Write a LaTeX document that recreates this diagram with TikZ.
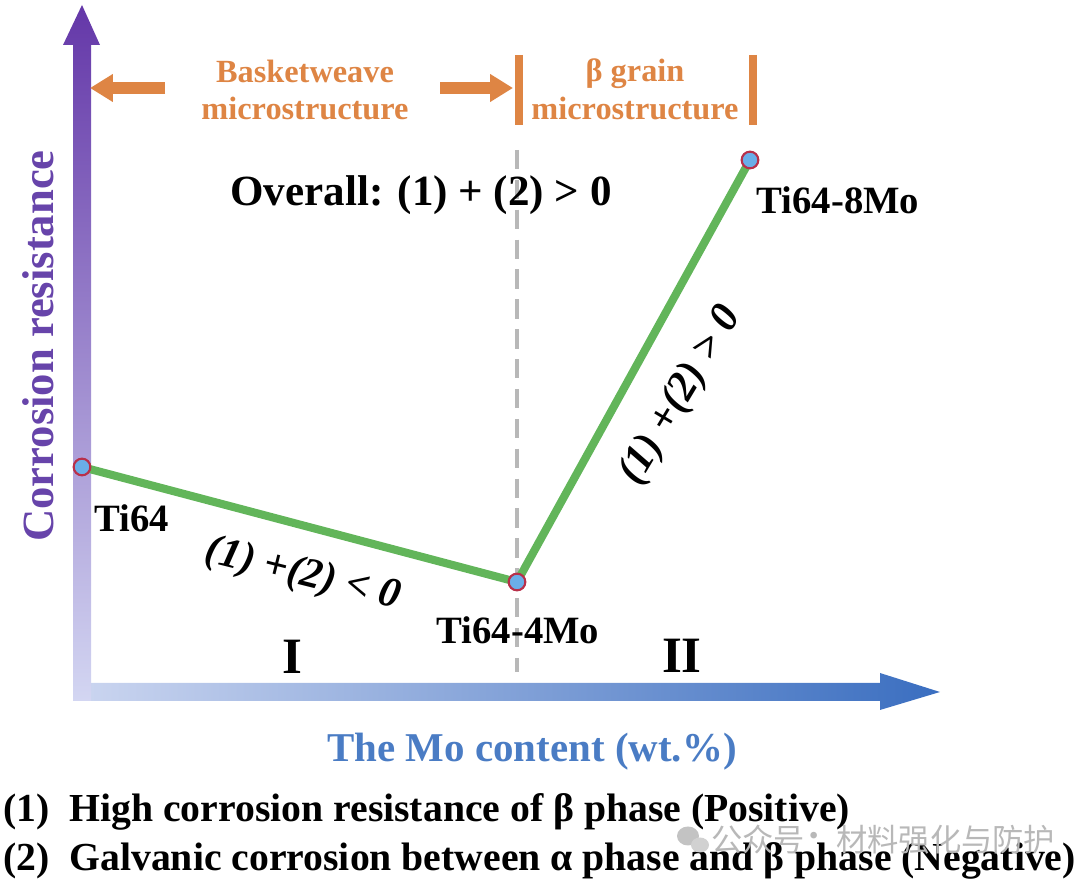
\documentclass[tikz,border=0pt]{standalone}
\usepackage{fontspec}
\setmainfont{Liberation Serif}
\newfontfamily\cjkfont{Noto Sans CJK SC}
\usetikzlibrary{arrows.meta}

\definecolor{axpurple}{HTML}{6437A8}
\definecolor{axlav}{HTML}{D3D6F2}
\definecolor{axlight}{HTML}{CCD6F0}
\definecolor{axblue}{HTML}{3A6EC0}
\definecolor{regorange}{HTML}{DE8544}
\definecolor{trendgreen}{HTML}{62B55A}
\definecolor{dotblue}{HTML}{6AAEE8}
\definecolor{dotred}{HTML}{B8304A}
\definecolor{ylabcol}{HTML}{6744AA}
\definecolor{xlabcol}{HTML}{4A7CC4}
\definecolor{markgray}{HTML}{B8B8B8}

\tikzset{
  lbl/.style={font=\bfseries\fontsize{22}{26}\selectfont, inner sep=0pt},
  regtxt/.style={font=\bfseries\fontsize{18.4}{21.6}\selectfont, text=regorange, align=center, inner sep=0pt},
  sumtxt/.style={font=\bfseries\itshape\fontsize{24}{28}\selectfont, inner sep=0pt},
  roman/.style={font=\bfseries\fontsize{29}{34}\selectfont, inner sep=0pt},
  legend/.style={font=\bfseries\fontsize{22.6}{27}\selectfont, anchor=west, inner sep=0pt},
  marktxt/.style={font=\cjkfont\fontsize{17.8}{21}\selectfont, text=markgray, inner sep=0pt},
  regarrow/.style={regorange, line width=6.8pt, -{Triangle[length=13pt, width=15pt]}},
  regbar/.style={regorange, line width=4.5pt},
  trend/.style={trendgreen, line width=4.6pt, line join=round},
  dot/.style={circle, fill=dotblue, draw=dotred, line width=1.2pt, minimum size=9.5pt, inner sep=0pt},
}

\begin{document}
\begin{tikzpicture}[x=0.02cm, y=-0.02cm]
  \useasboundingbox (0,0) rectangle (1080,888);

  % axes
  \shade[left color=axlight, right color=axblue]
    (73,683) -- (880,683) -- (880,673) -- (940,692) -- (880,710) -- (880,701) -- (73,701) -- cycle;
  \shade[top color=axpurple, bottom color=axlav]
    (73,701) -- (73,45) -- (63,45) -- (82,5) -- (100,45) -- (91,45) -- (91,701) -- cycle;
  \node[font=\bfseries\fontsize{25.4}{30}\selectfont, text=ylabcol, rotate=90, inner sep=0pt] (ylab) at (38,346) {Corrosion resistance};
  \node[font=\bfseries\fontsize{23.3}{28}\selectfont, text=xlabcol, inner sep=0pt] (xlab) at (532,752) {The Mo content (wt.\%)};

  % regions
  \coordinate (bw-tail) at (165,88);
  \coordinate (bw-tip) at (90,88);
  \coordinate (bg-tail) at (440,88);
  \coordinate (bg-tip) at (513,88);
  \draw[regarrow] (bw-tail) -- (bw-tip);
  \draw[regarrow] (bg-tail) -- (bg-tip);
  \draw[regbar] (519,55) -- (519,125);
  \draw[regbar] (753,55) -- (753,125);
  \node[regtxt] (basket) at (305,90) {Basketweave\\microstructure};
  \node[regtxt] (grain) at (635,89) {β grain\\microstructure};
  \draw[markgray, line width=2.3pt, dash pattern=on 11pt off 6pt] (517,150) -- (517,672);
  \node[font=\bfseries\fontsize{24.5}{29}\selectfont, inner sep=0pt] (overall) at (421,195) {Overall: (1) + (2) > 0};

  % trend
  \coordinate (p0) at (82,467);
  \coordinate (p1) at (517,582);
  \coordinate (p2) at (750,160);
  \draw[trend] (p0) -- (p1) -- (p2);
  \node[dot] (ti64) at (p0) {};
  \node[dot] (ti4mo) at (p1) {};
  \node[dot] (ti8mo) at (p2) {};
  \node[lbl] (ti64-lbl) at (132,518) {Ti64};
  \node[lbl] (ti4mo-lbl) at (518,630) {Ti64-4Mo};
  \node[lbl] (ti8mo-lbl) at (838,200) {Ti64-8Mo};
  \node[sumtxt, rotate=-14] (neg) at (303,575) {(1) +(2) < 0};
  \node[sumtxt, rotate=59] (pos) at (681,396) {(1) +(2) > 0};
  \node[roman] (reg1) at (292,657) {I};
  \node[roman] (reg2) at (682,656) {II};

  % legend
  \node[legend] (leg1) at (3,812) {(1)\hspace{0.5em}High corrosion resistance of β phase (Positive)};
  \node[legend] (leg2) at (3,861) {(2)\hspace{0.5em}Galvanic corrosion between α phase and β phase (Negative)};

  % watermark
  \fill[markgray!85] (688,836) ellipse (11 and 9.5);
  \fill[markgray!65] (700,845) ellipse (9 and 7.5);
  \node[marktxt, anchor=west] (mark1) at (711,840) {公众号};
  \node[marktxt] (markdot) at (814,840) {·};
  \node[marktxt, anchor=west] (mark2) at (836,840) {材料强化与防护};
\end{tikzpicture}
\end{document}
